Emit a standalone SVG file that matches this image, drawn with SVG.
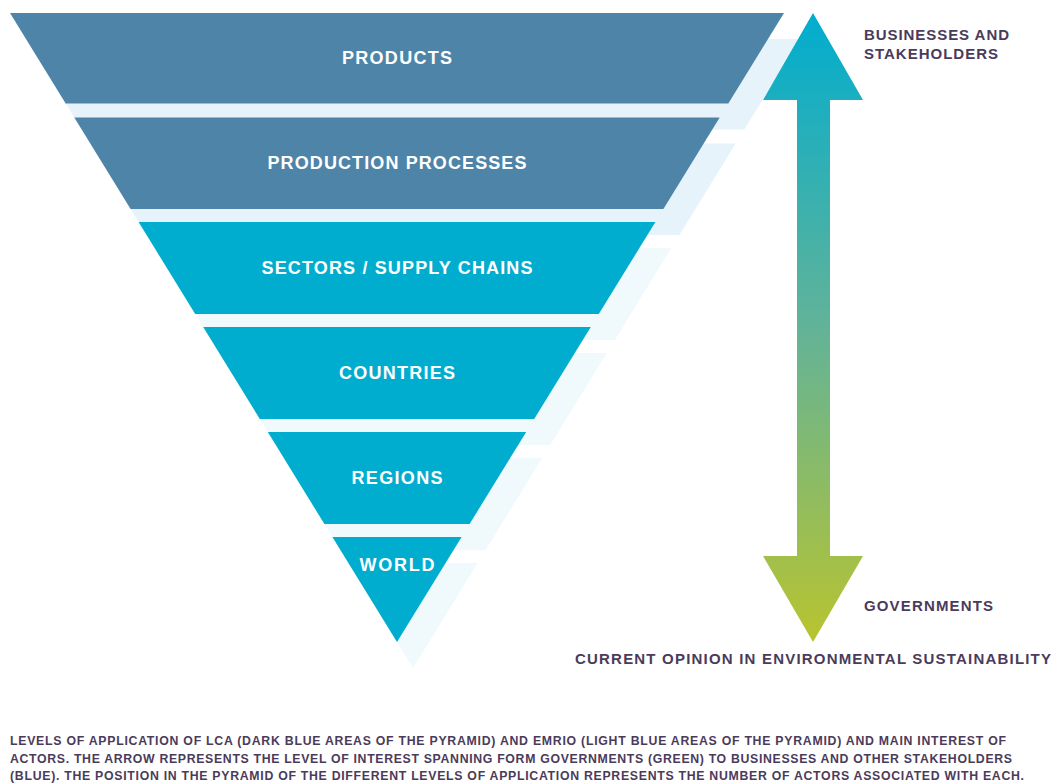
<svg xmlns="http://www.w3.org/2000/svg" width="1053" height="783" viewBox="0 0 1053 783">
<defs>
<style>
.dark{fill:#4e84a8}
.light{fill:#00adcf}
.shD{fill:#e6f3fa}
.shL{fill:#f0f9fc}
.lbl{font-family:"Liberation Sans",Arial,sans-serif;font-weight:bold;font-size:18px;fill:#ffffff;text-anchor:middle}
.side{font-family:"Liberation Sans",Arial,sans-serif;font-weight:bold;font-size:15px;fill:#4b3b5b}
.cap{font-family:"Liberation Sans",Arial,sans-serif;font-weight:bold;font-size:12.3px;fill:#4b3b5b}
</style>
<linearGradient id="arrowGrad" gradientUnits="userSpaceOnUse" x1="0" y1="13" x2="0" y2="642">
<stop offset="0" stop-color="#00adcf"/>
<stop offset="0.5" stop-color="#62b398"/>
<stop offset="1" stop-color="#b8c42f"/>
</linearGradient>
</defs>
<rect width="1053" height="783" fill="#ffffff"/>
<g id="shadows" transform="translate(16,26)">
<polygon class="shD" points="10,13 784,13 728.3,103.5 65.7,103.5"/>
<polygon class="shD" points="74.3,117.5 719.7,117.5 663.4,209 130.6,209"/>
<polygon class="shL" points="138.6,222 655.4,222 598.8,314 195.2,314"/>
<polygon class="shL" points="203.2,327 590.8,327 534.2,419 259.8,419"/>
<polygon class="shL" points="267.8,432 526.2,432 469.6,524 324.4,524"/>
<polygon class="shL" points="332.4,537 461.6,537 397,642"/>
</g>
<g id="products">
<polygon class="dark" points="10,13 784,13 728.3,103.5 65.7,103.5"/>
<text class="lbl" x="397" y="63.5" textLength="110" lengthAdjust="spacing">PRODUCTS</text>
</g>
<g id="production-processes">
<polygon class="dark" points="74.3,117.5 719.7,117.5 663.4,209 130.6,209"/>
<text class="lbl" x="397" y="168.5" textLength="259" lengthAdjust="spacing">PRODUCTION PROCESSES</text>
</g>
<g id="sectors">
<polygon class="light" points="138.6,222 655.4,222 598.8,314 195.2,314"/>
<text class="lbl" x="397" y="273.5" textLength="271" lengthAdjust="spacing">SECTORS / SUPPLY CHAINS</text>
</g>
<g id="countries">
<polygon class="light" points="203.2,327 590.8,327 534.2,419 259.8,419"/>
<text class="lbl" x="397" y="378.5" textLength="116" lengthAdjust="spacing">COUNTRIES</text>
</g>
<g id="regions">
<polygon class="light" points="267.8,432 526.2,432 469.6,524 324.4,524"/>
<text class="lbl" x="397" y="483.5" textLength="91" lengthAdjust="spacing">REGIONS</text>
</g>
<g id="world">
<polygon class="light" points="332.4,537 461.6,537 397,642"/>
<text class="lbl" x="397" y="570.5" textLength="75" lengthAdjust="spacing">WORLD</text>
</g>
<g id="connectors">
<polygon fill="url(#arrowGrad)" points="813,13 863,100 830,100 830,556 863,556 813,642 763,556 797,556 797,100 763,100"/>
</g>
<g id="label-businesses">
<text class="side" x="864" y="40" textLength="145" lengthAdjust="spacing">BUSINESSES AND</text>
<text class="side" x="864" y="59" textLength="134" lengthAdjust="spacing">STAKEHOLDERS</text>
</g>
<g id="label-governments">
<text class="side" x="864" y="611" textLength="129" lengthAdjust="spacing">GOVERNMENTS</text>
</g>
<g id="label-opinion">
<text class="side" x="575" y="664" textLength="476" lengthAdjust="spacing">CURRENT OPINION IN ENVIRONMENTAL SUSTAINABILITY</text>
</g>
<g id="caption">
<text class="cap" x="10" y="745" textLength="996" lengthAdjust="spacing">LEVELS OF APPLICATION OF LCA (DARK BLUE AREAS OF THE PYRAMID) AND EMRIO (LIGHT BLUE AREAS OF THE PYRAMID) AND MAIN INTEREST OF</text>
<text class="cap" x="10" y="763" textLength="1002" lengthAdjust="spacing">ACTORS. THE ARROW REPRESENTS THE LEVEL OF INTEREST SPANNING FORM GOVERNMENTS (GREEN) TO BUSINESSES AND OTHER STAKEHOLDERS</text>
<text class="cap" x="10" y="780" textLength="1014" lengthAdjust="spacing">(BLUE). THE POSITION IN THE PYRAMID OF THE DIFFERENT LEVELS OF APPLICATION REPRESENTS THE NUMBER OF ACTORS ASSOCIATED WITH EACH.</text>
</g>
</svg>
